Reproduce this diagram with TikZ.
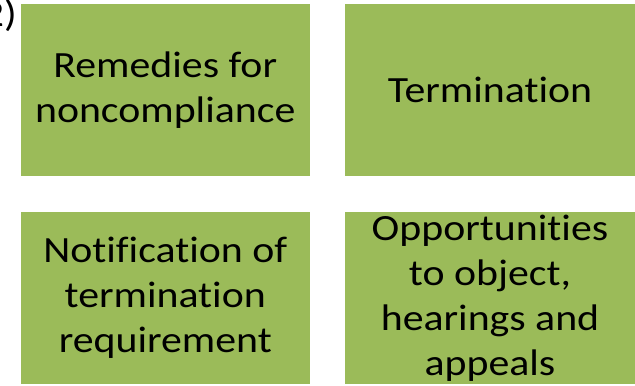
\documentclass[tikz,border=0pt]{standalone}
\usepackage{fontspec}
\setmainfont{Carlito}[FakeStretch=1.13, Ligatures=NoCommon]
\definecolor{boxgreen}{HTML}{9BBB59}
\tikzset{
  greenbox/.style={fill=boxgreen, draw=none, minimum width=289.5bp, minimum height=172bp,
    inner sep=0pt, outer sep=0pt, anchor=north west},
  boxtext/.style={align=center, font=\fontsize{37bp}{45bp}\selectfont, inner sep=0pt, text=black}
}
\begin{document}
\begin{tikzpicture}[x=1bp,y=-1bp]
\useasboundingbox (0,0) rectangle (635,385);
\node[greenbox] (b1) at (20.5,4) {};
\node[greenbox, minimum width=291bp] (b2) at (345,4) {};
\node[greenbox] (b3) at (20.5,212) {};
\node[greenbox, minimum width=291bp] (b4) at (345,212) {};
\node[boxtext] (t1) at (b1.center) {Remedies for\\noncompliance};
\node[boxtext] (t2) at ([xshift=-0.5bp]b2.center) {Termination};
\node[boxtext] (t3) at (b3.center) {Notification of\\termination\\requirement};
\node[boxtext] (t4) at ([xshift=-0.5bp]b4.center) {Opportunities\\to object,\\hearings and\\appeals};
\node[boxtext, anchor=base east] (num) at (17,26) {2)};
\end{tikzpicture}
\end{document}
